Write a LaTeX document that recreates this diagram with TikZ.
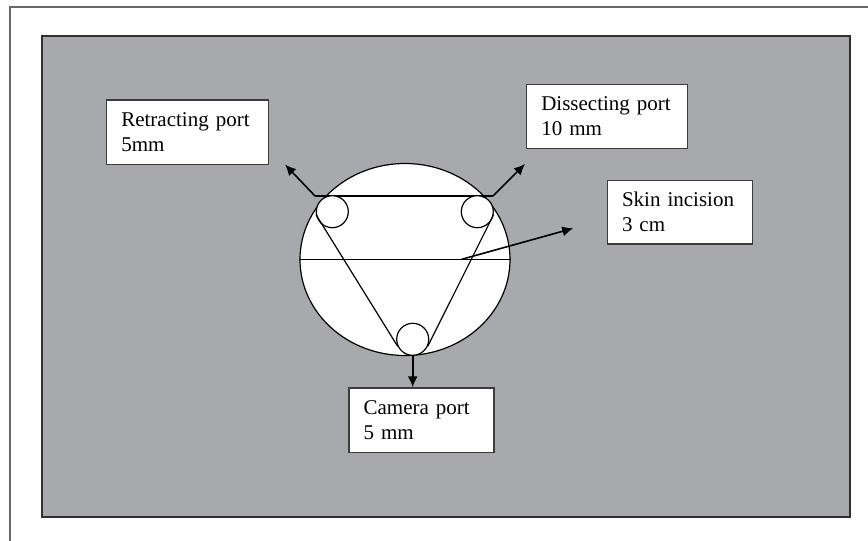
\documentclass[tikz,border=0pt]{standalone}
\usepackage{fontspec}
\setmainfont{Liberation Serif}
\usetikzlibrary{arrows.meta,shapes.geometric}
\definecolor{bggray}{RGB}{168,169,173}
\definecolor{framegray}{RGB}{105,105,105}
\definecolor{boxline}{RGB}{60,60,60}
\tikzset{
  label box/.style={draw=boxline, fill=white, line width=1.2, anchor=north west,
    inner xsep=14.7, inner ysep=0, align=left,
    font=\fontsize{21}{25}\selectfont},
  port/.style={circle, draw, fill=white, minimum size=32, inner sep=0, line width=1.2},
  thin line/.style={line width=1.2},
  pointer/.style={line width=1.6, -{Latex[length=11,width=10]}}
}
\begin{document}
\begin{tikzpicture}[x=1pt,y=-1pt]
\useasboundingbox (0,0) rectangle (868,541);
\draw[framegray, line width=2] (9.5,541) -- (9.5,6.5) -- (868,6.5);
\node[draw=boxline!80!black, fill=bggray, line width=2, anchor=north west,
  minimum width=808, minimum height=481, inner sep=0] (field) at (41,35) {};
% skin circle
\node[ellipse, draw, fill=white, minimum width=210, minimum height=192, inner sep=0, line width=1.2] (skin) at (405,259.5) {};
\coordinate (chL) at (315,196);
\coordinate (chR) at (493,196);
\draw[thin line] (chL) -- (chR);
\draw[thin line] (skin.west) -- (skin.east);
% ports
\node[port] (pL) at (332.3,211.7) {};
\node[port] (pR) at (477.3,211.7) {};
\node[port] (pB) at (412.7,339.3) {};
\draw[thin line] (pL.190) -- (pB.205);
\draw[thin line] (pR.350) -- (pB.335);
% label boxes
\node[label box, text width=132.3, minimum height=64.7] (retract) at (106,99.3) {Retracting port\\5mm};
\node[label box, text width=131.6, minimum height=63.7] (dissect) at (526,84) {Dissecting port\\10 mm};
\node[label box, text width=115.6, minimum height=63.3] (incision) at (606.7,180) {Skin incision\\3 cm};
\node[label box, text width=115.6, minimum height=64.4] (camera) at (348.3,387.3) {Camera port\\5 mm};
% arrows
\coordinate (tipL) at (285,164.5);
\coordinate (tipR) at (525,164);
\coordinate (incStart) at (461.7,259.3);
\coordinate (tipInc) at (573.3,228.3);
\draw[pointer] (chL) -- (tipL);
\draw[pointer] (chR) -- (tipR);
\draw[pointer] (incStart) -- (tipInc);
\draw[pointer] (pB.south) -- (pB.south |- camera.north);
\end{tikzpicture}
\end{document}
